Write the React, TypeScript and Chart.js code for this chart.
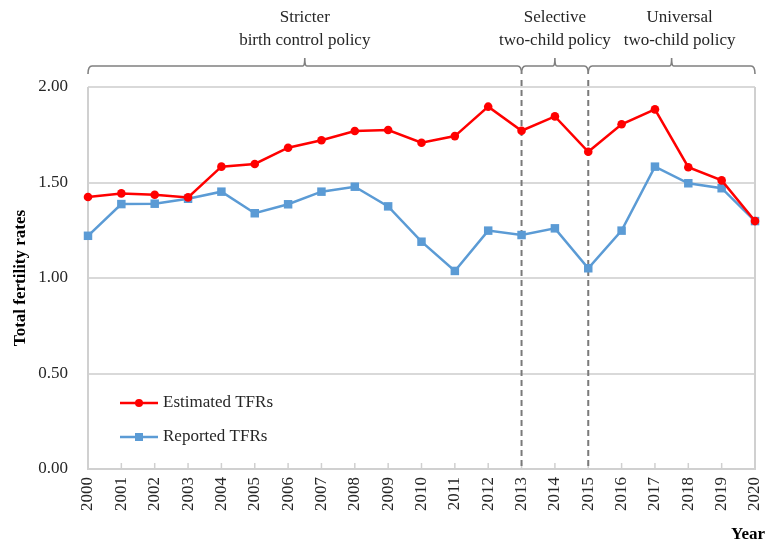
import React, { useEffect, useRef } from "react";
import { Chart, registerables } from "chart.js";

Chart.register(...registerables);

const years = ["2000","2001","2002","2003","2004","2005","2006","2007","2008","2009","2010","2011","2012","2013","2014","2015","2016","2017","2018","2019","2020"];
const estimated = [1.424,1.443,1.436,1.422,1.583,1.597,1.682,1.721,1.770,1.775,1.708,1.743,1.897,1.771,1.846,1.661,1.805,1.883,1.580,1.511,1.298];
const reported = [1.221,1.387,1.389,1.415,1.452,1.339,1.386,1.452,1.478,1.375,1.190,1.037,1.248,1.225,1.260,1.051,1.248,1.583,1.496,1.470,1.298];
const yTicks = [0, 0.5, 1, 1.5, 2];
const policyBreaks = ["2013", "2015"];
const policyPeriods = [
  { from: "2000", to: "2013", lines: ["Stricter", "birth control policy"] },
  { from: "2013", to: "2015", lines: ["Selective", "two-child policy"] },
  { from: "2015", to: "2020", lines: ["Universal", "two-child policy"] },
];
const seriesNames = ["Estimated TFRs", "Reported TFRs"];

const FONT = "'Liberation Serif', 'Times New Roman', serif";

const overlayPlugin = {
  id: "overlay",
  beforeDatasetsDraw(chart: any) {
    const { ctx, chartArea, scales } = chart;
    const x = scales.x;
    ctx.save();
    ctx.strokeStyle = "#d0d0d0";
    ctx.lineWidth = 2;
    ctx.beginPath();
    ctx.moveTo(chartArea.left, chartArea.top);
    ctx.lineTo(chartArea.left, chartArea.bottom);
    ctx.lineTo(chartArea.right, chartArea.bottom);
    ctx.lineTo(chartArea.right, chartArea.top);
    ctx.stroke();
    ctx.lineWidth = 1.5;
    for (let i = 0; i < years.length; i++) {
      const px = x.getPixelForValue(i);
      ctx.beginPath();
      ctx.moveTo(px, chartArea.bottom);
      ctx.lineTo(px, chartArea.bottom - 6);
      ctx.stroke();
    }
    ctx.strokeStyle = "#7a7a7a";
    ctx.lineWidth = 2;
    ctx.setLineDash([6, 4]);
    for (const b of policyBreaks) {
      const px = x.getPixelForValue(years.indexOf(b));
      ctx.beginPath();
      ctx.moveTo(px, 80);
      ctx.lineTo(px, chartArea.bottom);
      ctx.stroke();
    }
    ctx.setLineDash([]);
    ctx.strokeStyle = "#808080";
    ctx.lineWidth = 1.6;
    const by = 66;
    policyPeriods.forEach((p) => {
      const x1 = x.getPixelForValue(years.indexOf(p.from));
      const x2 = x.getPixelForValue(years.indexOf(p.to));
      const mid = (x1 + x2) / 2;
      ctx.beginPath();
      ctx.moveTo(x1, by + 8);
      ctx.quadraticCurveTo(x1, by, x1 + 4, by);
      ctx.lineTo(mid - 2, by);
      ctx.quadraticCurveTo(mid, by, mid, by - 8);
      ctx.quadraticCurveTo(mid, by, mid + 2, by);
      ctx.lineTo(x2 - 4, by);
      ctx.quadraticCurveTo(x2, by, x2, by + 8);
      ctx.stroke();
    });
    ctx.restore();
  },
  afterDatasetsDraw(chart: any) {
    const { ctx, chartArea, scales } = chart;
    const x = scales.x;
    ctx.save();
    ctx.fillStyle = "#262626";
    ctx.font = `17px ${FONT}`;
    ctx.textAlign = "center";
    ctx.textBaseline = "middle";
    policyPeriods.forEach((p, i) => {
      const x1 = x.getPixelForValue(years.indexOf(p.from));
      const x2 = x.getPixelForValue(years.indexOf(p.to));
      let cx = (x1 + x2) / 2;
      if (i === 2) cx += 8;
      ctx.fillText(p.lines[0], cx, 18);
      ctx.fillText(p.lines[1], cx, 41);
    });
    const ds = chart.data.datasets;
    const legendY = [403, 437];
    ds.forEach((d: any, i: number) => {
      const ly = legendY[i];
      ctx.strokeStyle = d.borderColor;
      ctx.lineWidth = 2.5;
      ctx.beginPath();
      ctx.moveTo(120, ly);
      ctx.lineTo(158, ly);
      ctx.stroke();
      ctx.fillStyle = d.borderColor;
      if (d.pointStyle === "rect") {
        ctx.fillRect(135, ly - 4, 8, 8);
      } else {
        ctx.beginPath();
        ctx.arc(139, ly, 4, 0, Math.PI * 2);
        ctx.fill();
      }
      ctx.fillStyle = "#262626";
      ctx.textAlign = "left";
      ctx.font = `17px ${FONT}`;
      ctx.fillText(seriesNames[i], 163, ly);
    });
    ctx.fillStyle = "#000";
    ctx.font = `bold 17px ${FONT}`;
    ctx.textAlign = "right";
    ctx.fillText("Year", 765, 535);
    ctx.save();
    ctx.translate(21, (chartArea.top + chartArea.bottom) / 2);
    ctx.rotate(-Math.PI / 2);
    ctx.textAlign = "center";
    ctx.fillText("Total fertility rates", 0, 0);
    ctx.restore();
    ctx.restore();
  },
};

export default function App() {
  const ref = useRef<HTMLCanvasElement>(null);
  useEffect(() => {
    if (!ref.current) return;
    const chart = new Chart(ref.current, {
      type: "line",
      data: {
        labels: years,
        datasets: [
          {
            label: seriesNames[0],
            data: estimated,
            borderColor: "#ff0000",
            backgroundColor: "#ff0000",
            borderWidth: 2.5,
            pointStyle: "circle",
            pointRadius: 4.3,
            pointBorderWidth: 0,
            tension: 0,
            clip: false as any,
          },
          {
            label: seriesNames[1],
            data: reported,
            borderColor: "#5b9bd5",
            backgroundColor: "#5b9bd5",
            borderWidth: 2.5,
            pointStyle: "rect",
            pointRadius: 6,
            pointBorderWidth: 0,
            tension: 0,
            clip: false as any,
          },
        ],
      },
      options: {
        animation: false,
        responsive: false,
        layout: { padding: { top: 87, right: 11, left: 0, bottom: 0 } },
        plugins: { legend: { display: false }, tooltip: { enabled: false } },
        scales: {
          x: {
            offset: false,
            afterFit: (s: any) => { s.height = 75; s.paddingLeft = 0; s.paddingRight = 0; },
            grid: { display: false, drawTicks: false },
            border: { display: false },
            ticks: {
              minRotation: 90,
              maxRotation: 90,
              autoSkip: false,
              padding: 8,
              color: "#262626",
              font: { family: FONT, size: 17 },
            },
          },
          y: {
            min: 0,
            max: 2,
            afterFit: (s: any) => { s.width = 88; s.paddingTop = 0; s.paddingBottom = 0; },
            afterBuildTicks: (s: any) => { s.ticks = yTicks.map((v) => ({ value: v })); },
            grid: { color: "#d9d9d9", lineWidth: 2, drawTicks: false },
            border: { display: false },
            ticks: {
              padding: 20,
              color: "#262626",
              font: { family: FONT, size: 17 },
              callback: (v: any) => Number(v).toFixed(2),
            },
          },
        },
      },
      plugins: [overlayPlugin],
    });
    return () => chart.destroy();
  }, []);
  return (
    <div style={{ position: "fixed", left: 0, top: 0, width: 766, height: 544, background: "#fff" }}>
      <canvas ref={ref} width={766} height={544} style={{ width: 766, height: 544 }} />
    </div>
  );
}
